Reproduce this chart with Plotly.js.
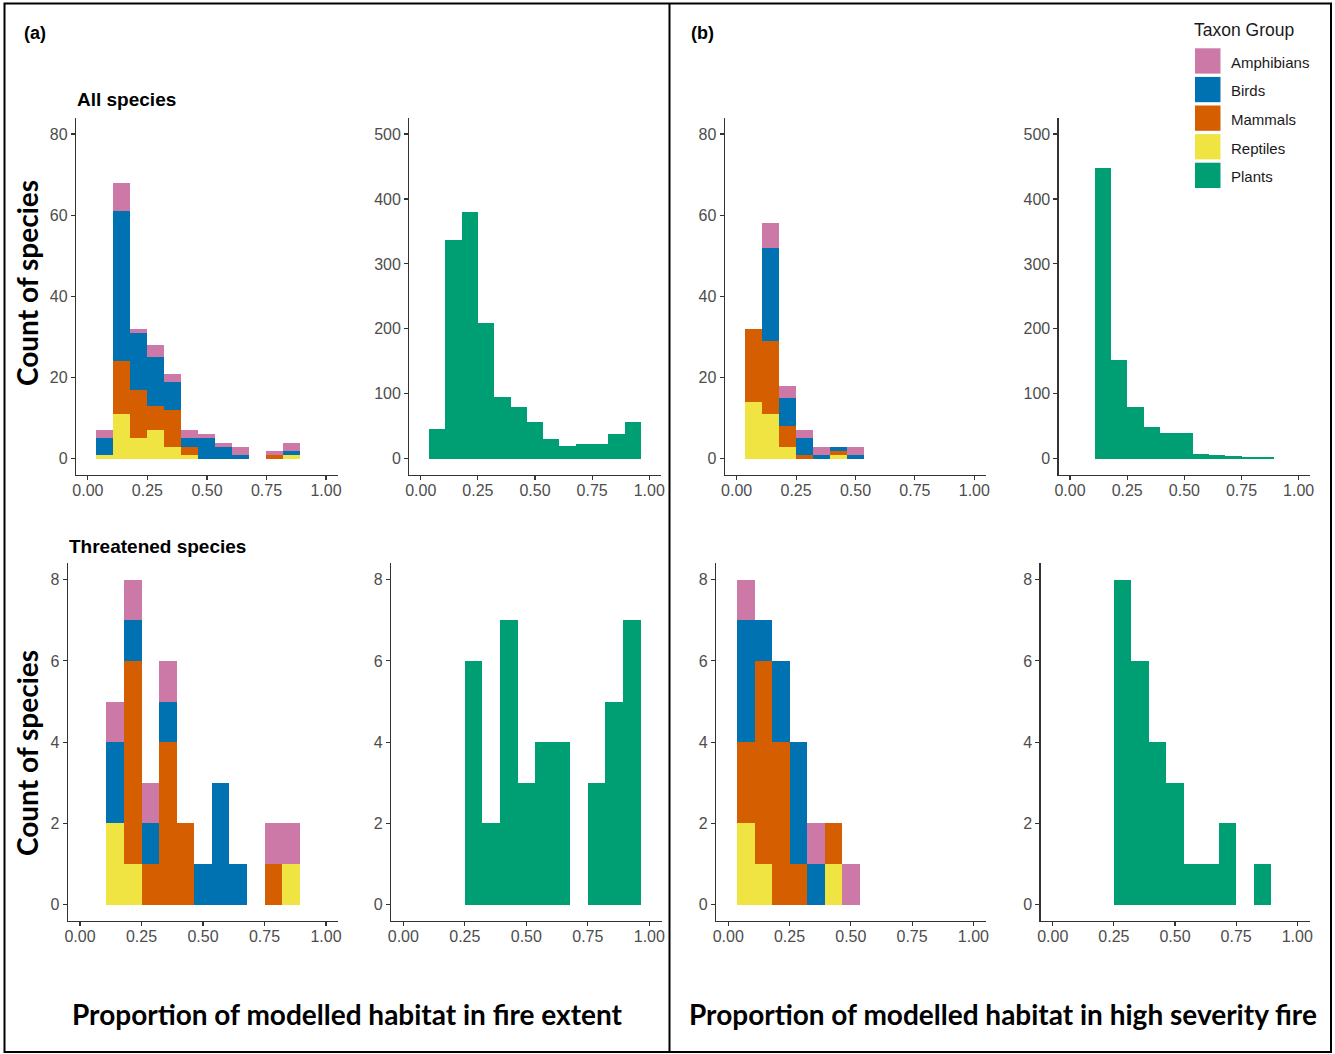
<!DOCTYPE html>
<html>
<head>
<meta charset="utf-8">
<script src="https://cdn.plot.ly/plotly-3.0.1.min.js"></script>
<style>html,body{margin:0;padding:0;background:#fff;}#chart{width:1335px;height:1054px;}</style>
</head>
<body>
<div id="chart"></div>
<script>
// ---------------- DATA ----------------
const groups = ["Amphibians", "Birds", "Mammals", "Reptiles", "Plants"];
const groupColors = ["#CC79A7", "#0072B2", "#D55E00", "#F0E442", "#009E73"];
const stackOrder = ["Reptiles", "Mammals", "Birds", "Amphibians"]; // bottom to top
const binMid = [0.071429, 0.142857, 0.214286, 0.285714, 0.357143, 0.428571, 0.5,
                0.571429, 0.642857, 0.714286, 0.785714, 0.857143, 0.928571, 1.0];
const binWidth = 0.0714286;
const xTickVals = [0, 0.25, 0.5, 0.75, 1];
const xTickText = ["0.00", "0.25", "0.50", "0.75", "1.00"];

// (a) fire extent, all species
const extAllReptiles   = [1, 11, 5, 7, 3, 1, 0, 0, 0, 0, 0, 1, 0, 0];
const extAllMammals    = [0, 13, 12, 6, 9, 2, 0, 0, 0, 0, 1, 0, 0, 0];
const extAllBirds      = [4, 37, 14, 12, 7, 2, 5, 3, 1, 0, 0, 1, 0, 0];
const extAllAmphibians = [2, 7, 1, 3, 2, 2, 1, 1, 2, 0, 1, 2, 0, 0];
const extAllPlants     = [46, 337, 380, 209, 95, 79, 56, 30, 19, 22, 22, 38, 57, 0];
// (b) high severity, all species
const sevAllReptiles   = [14, 11, 3, 0, 0, 1, 0, 0, 0, 0, 0, 0, 0, 0];
const sevAllMammals    = [18, 18, 5, 1, 0, 1, 0, 0, 0, 0, 0, 0, 0, 0];
const sevAllBirds      = [0, 23, 7, 4, 1, 1, 1, 0, 0, 0, 0, 0, 0, 0];
const sevAllAmphibians = [0, 6, 3, 2, 2, 0, 2, 0, 0, 0, 0, 0, 0, 0];
const sevAllPlants     = [0, 448, 152, 80, 49, 40, 40, 8, 6, 5, 3, 3, 0, 0];
// (a) fire extent, threatened species
const extThrReptiles   = [0, 2, 1, 0, 0, 0, 0, 0, 0, 0, 0, 1, 0, 0];
const extThrMammals    = [0, 0, 5, 1, 4, 2, 0, 0, 0, 0, 1, 0, 0, 0];
const extThrBirds      = [0, 2, 1, 1, 1, 0, 1, 3, 1, 0, 0, 0, 0, 0];
const extThrAmphibians = [0, 1, 1, 1, 1, 0, 0, 0, 0, 0, 1, 1, 0, 0];
const extThrPlants     = [0, 0, 0, 6, 2, 7, 3, 4, 4, 0, 3, 5, 7, 0];
// (b) high severity, threatened species
const sevThrReptiles   = [2, 1, 0, 0, 0, 1, 0, 0, 0, 0, 0, 0, 0, 0];
const sevThrMammals    = [2, 5, 4, 1, 0, 1, 0, 0, 0, 0, 0, 0, 0, 0];
const sevThrBirds      = [3, 1, 2, 3, 1, 0, 0, 0, 0, 0, 0, 0, 0, 0];
const sevThrAmphibians = [1, 0, 0, 0, 1, 0, 1, 0, 0, 0, 0, 0, 0, 0];
const sevThrPlants     = [0, 0, 0, 8, 6, 4, 3, 1, 1, 2, 0, 1, 0, 0];

const animalYTicks = [0, 20, 40, 60, 80];
const plantYTicks = [0, 100, 200, 300, 400, 500];
const thrYTicks = [0, 2, 4, 6, 8];

// ---------------- BUILD ----------------
const W = 1335, H = 1054;
const colorOf = g => groupColors[groups.indexOf(g)];

const animalPanels = [
  {ax: 1, series: {Reptiles: extAllReptiles, Mammals: extAllMammals, Birds: extAllBirds, Amphibians: extAllAmphibians}},
  {ax: 3, series: {Reptiles: sevAllReptiles, Mammals: sevAllMammals, Birds: sevAllBirds, Amphibians: sevAllAmphibians}},
  {ax: 5, series: {Reptiles: extThrReptiles, Mammals: extThrMammals, Birds: extThrBirds, Amphibians: extThrAmphibians}},
  {ax: 7, series: {Reptiles: sevThrReptiles, Mammals: sevThrMammals, Birds: sevThrBirds, Amphibians: sevThrAmphibians}}
];
const plantPanels = [
  {ax: 2, values: extAllPlants},
  {ax: 4, values: sevAllPlants},
  {ax: 6, values: extThrPlants},
  {ax: 8, values: sevThrPlants}
];

const traces = [];
const axName = i => (i === 1 ? "" : String(i));
animalPanels.forEach(p => {
  stackOrder.forEach(g => {
    traces.push({
      type: "bar", name: g, x: binMid, y: p.series[g], width: binWidth,
      marker: {color: colorOf(g), line: {width: 0}},
      xaxis: "x" + axName(p.ax), yaxis: "y" + axName(p.ax),
      showlegend: false, hoverinfo: "x+y+name"
    });
  });
});
plantPanels.forEach(p => {
  traces.push({
    type: "bar", name: "Plants", x: binMid, y: p.values, width: binWidth,
    marker: {color: colorOf("Plants"), line: {width: 0}},
    xaxis: "x" + axName(p.ax), yaxis: "y" + axName(p.ax),
    showlegend: false, hoverinfo: "x+y+name"
  });
});

// panel pixel boxes [left, right, top, bottom]
const boxes = {
  1: [76, 337.9, 117.8, 475],
  2: [409.3, 660.7, 117.8, 475],
  3: [724.8, 986.2, 117.8, 475],
  4: [1058.6, 1310.1, 117.8, 475],
  5: [67.7, 338.3, 563.4, 920.9],
  6: [391, 661.6, 563.4, 920.9],
  7: [716, 985.6, 563.4, 920.9],
  8: [1040.5, 1309.5, 563.4, 920.9]
};
const yRanges = {1: [-4, 84], 2: [-25, 525], 3: [-4, 84], 4: [-25, 525],
                 5: [-0.4, 8.4], 6: [-0.4, 8.4], 7: [-0.4, 8.4], 8: [-0.4, 8.4]};
const yTicks = {1: animalYTicks, 2: plantYTicks, 3: animalYTicks, 4: plantYTicks,
                5: thrYTicks, 6: thrYTicks, 7: thrYTicks, 8: thrYTicks};

const tickFont = {family: "Liberation Sans, Arial, sans-serif", size: 16, color: "#4D4D4D"};
const common = {
  showline: true, linecolor: "#333333", linewidth: 1.2, ticks: "outside", ticklen: 4,
  tickcolor: "#333333", tickwidth: 1.1, showgrid: false, zeroline: false,
  tickfont: tickFont, fixedrange: true
};

const layout = {
  width: W, height: H, margin: {l: 0, r: 0, t: 0, b: 0},
  paper_bgcolor: "#ffffff", plot_bgcolor: "#ffffff",
  barmode: "stack", bargap: 0, showlegend: false,
  shapes: [], annotations: []
};

for (let i = 1; i <= 8; i++) {
  const b = boxes[i];
  layout["xaxis" + axName(i)] = Object.assign({}, common, {
    domain: [b[0] / W, b[1] / W], anchor: "y" + axName(i),
    range: [-0.05, 1.05], tickmode: "array", tickvals: xTickVals, ticktext: xTickText,
    ticklabelstandoff: -3
  });
  layout["yaxis" + axName(i)] = Object.assign({}, common, {
    domain: [1 - b[3] / H, 1 - b[2] / H], anchor: "x" + axName(i),
    range: yRanges[i], tickmode: "array", tickvals: yTicks[i]
  });
}

// frame and divider
layout.shapes.push({type: "rect", xref: "paper", yref: "paper",
  x0: 4.5 / W, x1: 1331 / W, y0: 1 - 1052 / H, y1: 1 - 3.5 / H,
  line: {color: "#000000", width: 2}, fillcolor: "rgba(0,0,0,0)"});
layout.shapes.push({type: "line", xref: "paper", yref: "paper",
  x0: 669.5 / W, x1: 669.5 / W, y0: 1 - 1052 / H, y1: 1 - 3.5 / H,
  line: {color: "#000000", width: 2}});

const ann = (text, x, y, opts) => Object.assign({
  text: text, xref: "paper", yref: "paper", x: x / W, y: 1 - y / H,
  showarrow: false, xanchor: "left", yanchor: "middle"
}, opts || {});
const boldFont = (size) => ({family: "Liberation Sans, Arial, sans-serif", size: size, color: "#000000"});
const titleFont = {family: "Lato, Noto Sans, sans-serif", size: 28, color: "#000000", weight: 700};

layout.annotations.push(ann("<b>(a)</b>", 22, 33, {font: boldFont(18)}));
layout.annotations.push(ann("<b>(b)</b>", 689, 33, {font: boldFont(18)}));
layout.annotations.push(ann("<b>All species</b>", 75, 100, {font: boldFont(19)}));
layout.annotations.push(ann("<b>Threatened species</b>", 67, 546, {font: boldFont(19)}));
layout.annotations.push(ann("<b>Count of species</b>", 27, 283, {font: titleFont, textangle: -90, xanchor: "center"}));
layout.annotations.push(ann("<b>Count of species</b>", 27, 753, {font: titleFont, textangle: -90, xanchor: "center"}));
layout.annotations.push(ann("<b>Proportion of modelled habitat in fire extent</b>", 347, 1014, {font: titleFont, xanchor: "center"}));
layout.annotations.push(ann("<b>Proportion of modelled habitat in high severity fire</b>", 1003, 1014, {font: titleFont, xanchor: "center"}));

// legend (Taxon Group)
layout.annotations.push(ann("Taxon Group", 1192, 30, {font: {family: "Liberation Sans, Arial, sans-serif", size: 17.5, color: "#1a1a1a"}}));
groups.forEach((g, i) => {
  const top = 48.3 + i * 28.6;
  layout.shapes.push({type: "rect", xref: "paper", yref: "paper",
    x0: 1195 / W, x1: 1220.5 / W, y0: 1 - (top + 25.3) / H, y1: 1 - top / H,
    line: {width: 0}, fillcolor: groupColors[i]});
  layout.annotations.push(ann(g, 1229, top + 14, {font: {family: "Liberation Sans, Arial, sans-serif", size: 15, color: "#1a1a1a"}}));
});

Plotly.newPlot("chart", traces, layout, {displayModeBar: false, staticPlot: true});
</script>
</body>
</html>
